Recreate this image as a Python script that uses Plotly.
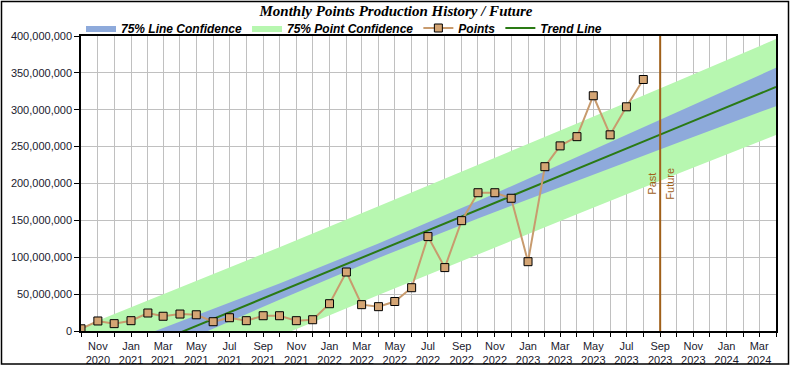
import plotly.graph_objects as go

# ---- data ----
point_months = [
    "2020-10-01", "2020-11-01", "2020-12-01", "2021-01-01", "2021-02-01", "2021-03-01",
    "2021-04-01", "2021-05-01", "2021-06-01", "2021-07-01", "2021-08-01", "2021-09-01",
    "2021-10-01", "2021-11-01", "2021-12-01", "2022-01-01", "2022-02-01", "2022-03-01",
    "2022-04-01", "2022-05-01", "2022-06-01", "2022-07-01", "2022-08-01", "2022-09-01",
    "2022-10-01", "2022-11-01", "2022-12-01", "2023-01-01", "2023-02-01", "2023-03-01",
    "2023-04-01", "2023-05-01", "2023-06-01", "2023-07-01", "2023-08-01",
]
points = [
    3.0e6, 13.6e6, 10.0e6, 14.0e6, 24.4e6, 20.0e6,
    23.0e6, 22.0e6, 12.6e6, 18.0e6, 14.0e6, 20.7e6,
    20.7e6, 14.0e6, 15.3e6, 37.0e6, 80.0e6, 35.7e6,
    33.0e6, 40.0e6, 58.7e6, 128.0e6, 86.0e6, 149.6e6,
    187.5e6, 187.5e6, 180.0e6, 94.0e6, 222.8e6, 251.0e6,
    263.5e6, 319.0e6, 266.0e6, 304.0e6, 341.0e6,
]

band_months = ["2020-10-01", "2021-04-01", "2021-10-01", "2022-04-01",
               "2022-10-01", "2023-04-01", "2023-10-01", "2024-04-01"]
trend = [-57.6e6, -2.1e6, 53.4e6, 108.9e6, 164.4e6, 219.9e6, 275.4e6, 330.9e6]
line_conf_upper = [-38.5e6, 12.3e6, 64.3e6, 118.7e6, 176.2e6, 235.8e6, 296.1e6, 356.9e6]
line_conf_lower = [-76.7e6, -16.5e6, 42.5e6, 99.1e6, 152.6e6, 204.0e6, 254.7e6, 304.9e6]
point_conf_upper = [4.8e6, 58.9e6, 113.7e6, 169.0e6, 224.9e6, 281.4e6, 338.4e6, 395.9e6]
point_conf_lower = [-120.0e6, -63.1e6, -6.9e6, 48.8e6, 103.9e6, 158.4e6, 212.4e6, 265.9e6]

divider_month = "2023-09-01"

axis_months = [
    "2020-10-01", "2020-11-01", "2020-12-01", "2021-01-01", "2021-02-01", "2021-03-01",
    "2021-04-01", "2021-05-01", "2021-06-01", "2021-07-01", "2021-08-01", "2021-09-01",
    "2021-10-01", "2021-11-01", "2021-12-01", "2022-01-01", "2022-02-01", "2022-03-01",
    "2022-04-01", "2022-05-01", "2022-06-01", "2022-07-01", "2022-08-01", "2022-09-01",
    "2022-10-01", "2022-11-01", "2022-12-01", "2023-01-01", "2023-02-01", "2023-03-01",
    "2023-04-01", "2023-05-01", "2023-06-01", "2023-07-01", "2023-08-01", "2023-09-01",
    "2023-10-01", "2023-11-01", "2023-12-01", "2024-01-01", "2024-02-01", "2024-03-01",
    "2024-04-01",
]
axis_labels = [
    "", "Nov<br>2020", "", "Jan<br>2021", "", "Mar<br>2021", "", "May<br>2021", "",
    "Jul<br>2021", "", "Sep<br>2021", "", "Nov<br>2021", "", "Jan<br>2022", "",
    "Mar<br>2022", "", "May<br>2022", "", "Jul<br>2022", "", "Sep<br>2022", "",
    "Nov<br>2022", "", "Jan<br>2023", "", "Mar<br>2023", "", "May<br>2023", "",
    "Jul<br>2023", "", "Sep<br>2023", "", "Nov<br>2023", "", "Jan<br>2024", "",
    "Mar<br>2024", "",
]
y_ticks = [0, 50e6, 100e6, 150e6, 200e6, 250e6, 300e6, 350e6, 400e6]
y_labels = ["0", "50,000,000", "100,000,000", "150,000,000", "200,000,000",
            "250,000,000", "300,000,000", "350,000,000", "400,000,000"]

GREEN_FILL = "#B7F7B0"
BLUE_FILL = "#8EAADB"
TREND = "#2A7A14"
PTS_LINE = "#C89B6E"
PTS_FILL = "#D4A574"
BROWN = "#A0601A"

fig = go.Figure()

# point confidence band
fig.add_trace(go.Scatter(x=band_months, y=point_conf_lower, mode="lines",
                         line=dict(width=0, color=GREEN_FILL), showlegend=False,
                         hoverinfo="skip"))
fig.add_trace(go.Scatter(x=band_months, y=point_conf_upper, mode="lines",
                         line=dict(width=0, color=GREEN_FILL), fill="tonexty",
                         fillcolor=GREEN_FILL, name="75% Point Confidence", legendrank=2))
# line confidence band
fig.add_trace(go.Scatter(x=band_months, y=line_conf_lower, mode="lines",
                         line=dict(width=0, color=BLUE_FILL), showlegend=False,
                         hoverinfo="skip"))
fig.add_trace(go.Scatter(x=band_months, y=line_conf_upper, mode="lines",
                         line=dict(width=0, color=BLUE_FILL), fill="tonexty",
                         fillcolor=BLUE_FILL, name="75% Line Confidence", legendrank=1))
# trend line
fig.add_trace(go.Scatter(x=band_months, y=trend, mode="lines",
                         line=dict(color=TREND, width=2), name="Trend Line", legendrank=4))
# points
fig.add_trace(go.Scatter(x=point_months, y=points, mode="lines+markers",
                         line=dict(color=PTS_LINE, width=2),
                         marker=dict(symbol="square", size=8, color=PTS_FILL,
                                     line=dict(color="black", width=1)),
                         name="Points", legendrank=3))

fig.add_shape(type="line", xref="x", yref="paper", x0=divider_month, x1=divider_month,
              y0=0, y1=1, line=dict(color=BROWN, width=2))
fig.add_annotation(x=divider_month, y=0.5, xref="x", yref="paper", text="Past",
                   textangle=-90, showarrow=False, xanchor="right", xshift=-1,
                   font=dict(family="Liberation Sans, Arial", size=11, color=BROWN))
fig.add_annotation(x=divider_month, y=0.5, xref="x", yref="paper", text="Future",
                   textangle=-90, showarrow=False, xanchor="left", xshift=1,
                   font=dict(family="Liberation Sans, Arial", size=11, color=BROWN))

# outer border
fig.add_shape(type="rect", xref="paper", yref="paper",
              x0=(1.5 - 81) / 695, x1=(788.5 - 81) / 695,
              y0=(331 - 364) / 295, y1=(331 - 1.5) / 295,
              line=dict(color="black", width=1.5), layer="above")

fig.update_layout(
    width=792, height=367,
    margin=dict(l=81, r=16, t=36, b=36, autoexpand=False),
    paper_bgcolor="white", plot_bgcolor="white",
    title=dict(text="Monthly Points Production History / Future", x=0.5, xanchor="center",
               y=1 - 11 / 367, yanchor="middle", yref="container",
               font=dict(family="Liberation Serif, Times New Roman", size=15,
                         color="black", weight="bold", style="italic")),
    legend=dict(orientation="h", x=0.0, xanchor="left", y=(331 - 28) / 295,
                yanchor="middle", bgcolor="rgba(0,0,0,0)",
                font=dict(family="Liberation Sans, Arial", size=12, color="black",
                          weight="bold", style="italic"),
                itemwidth=30, traceorder="normal"),
    font=dict(family="Liberation Sans, Arial", size=11, color="#1a1a2e"),
    showlegend=True,
)
fig.update_xaxes(type="date", range=[axis_months[0], axis_months[-1]],
                 tickmode="array", tickvals=axis_months, ticktext=axis_labels,
                 showgrid=True, gridcolor="#C0C0C0", gridwidth=1,
                 ticks="outside", ticklen=4, tickcolor="black", automargin=False,
                 showline=True, linecolor="black", linewidth=1.5, mirror=True,
                 tickfont=dict(size=11), zeroline=False)
fig.update_yaxes(range=[0, 400e6], tickmode="array", tickvals=y_ticks, ticktext=y_labels,
                 showgrid=True, gridcolor="#C0C0C0", gridwidth=1, automargin=False,
                 ticks="outside", ticklen=5, tickcolor="black",
                 showline=True, linecolor="black", linewidth=1.5, mirror=True,
                 tickfont=dict(size=11), zeroline=False)

fig.write_html("out.html", config={"displayModeBar": False},
               post_script="document.body.style.margin='0';"
                           "document.body.style.overflow='hidden';"
                           "document.documentElement.style.overflow='hidden';")
